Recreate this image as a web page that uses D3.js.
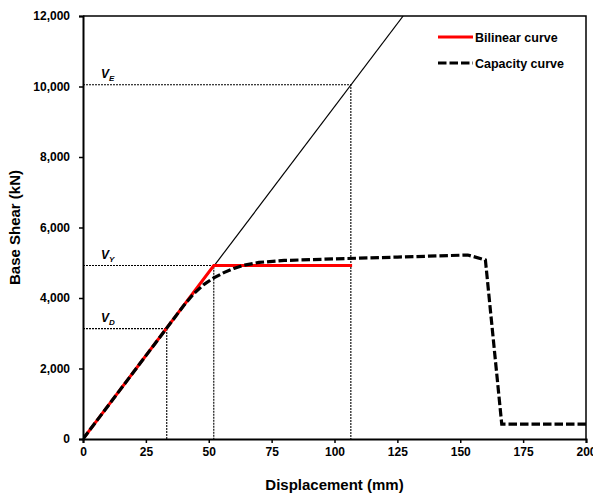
<!DOCTYPE html>
<html>
<head>
<meta charset="utf-8">
<script src="https://cdn.jsdelivr.net/npm/d3@7"></script>
<style>
  body { margin: 0; background: #fff; }
  svg { display: block; font-family: "Liberation Sans", Arial, sans-serif; }
  .axis text { font-size: 12px; font-weight: bold; fill: #000; }
</style>
</head>
<body>
<div id="chart"></div>
<script>
// Pushover capacity curve with bilinear idealisation.
const xTicks = [0, 25, 50, 75, 100, 125, 150, 175, 200];
const yTicks = [0, 2000, 4000, 6000, 8000, 10000, 12000];

const elasticLine = [[0, 0], [127.3, 12000]];
const bilinear = [[0, 0], [52.0, 4920], [107.0, 4920]];
const capacity = [
  [0, 0], [40, 3780], [44, 4120], [48, 4380], [52, 4570], [56, 4720],
  [60, 4840], [64, 4930], [70, 5010], [80, 5065], [100, 5110], [125, 5160],
  [153, 5220], [160, 5080], [166.5, 420], [200, 420]
];
// reference levels: name, subscript, displacement, shear
const levels = [
  { name: "V", sub: "E", d: 106.5, v: 10050 },
  { name: "V", sub: "Y", d: 52.0, v: 4920 },
  { name: "V", sub: "D", d: 33.3, v: 3130 }
];
const legendItems = [
  { label: "Bilinear curve", color: "#ff0000", dash: null },
  { label: "Capacity curve", color: "#000", dash: "8.5,3" }
];

const W = 593, H = 493;
const m = { t: 16, r: 7, b: 54, l: 83 };
const svg = d3.select("#chart").append("svg").attr("width", W).attr("height", H);

const x = d3.scaleLinear().domain([0, 200]).range([m.l, W - m.r]);
const y = d3.scaleLinear().domain([0, 12000]).range([H - m.b, m.t]);

svg.append("clipPath").attr("id", "plot-clip").append("rect")
  .attr("x", m.l).attr("y", m.t).attr("width", W - m.r - m.l).attr("height", H - m.b - m.t);

const plot = svg.append("g").attr("clip-path", "url(#plot-clip)");
const line = d3.line().x((d) => x(d[0])).y((d) => y(d[1]));

// dotted guide lines
levels.forEach((l) => {
  plot.append("path")
    .attr("d", line([[0, l.v], [l.d, l.v], [l.d, 0]]))
    .attr("fill", "none").attr("stroke", "#000").attr("stroke-width", 1.1)
    .attr("stroke-dasharray", "2,1");
  const t = svg.append("text").attr("x", x(7.2)).attr("y", y(l.v) - 7)
    .style("font-size", "12px").style("font-style", "italic").style("font-weight", "bold");
  t.append("tspan").text(l.name);
  t.append("tspan").attr("dy", 3).style("font-size", "8px").text(l.sub);
});

plot.append("path").attr("d", line(elasticLine))
  .attr("fill", "none").attr("stroke", "#000").attr("stroke-width", 1.2);
plot.append("path").attr("d", line(bilinear))
  .attr("fill", "none").attr("stroke", "#ff0000").attr("stroke-width", 3);
plot.append("path").attr("d", line(capacity))
  .attr("fill", "none").attr("stroke", "#000").attr("stroke-width", 3.2)
  .attr("stroke-dasharray", "8.5,3");

// frame
svg.append("path")
  .attr("d", `M${m.l},${m.t}H${W - m.r}V${H - m.b}`)
  .attr("fill", "none").attr("stroke", "#000").attr("stroke-width", 1.5);

svg.append("g").attr("class", "axis")
  .attr("transform", `translate(0,${H - m.b})`)
  .call(d3.axisBottom(x).tickValues(xTicks).tickSize(4).tickPadding(4).tickFormat(d3.format("d")))
  .call((g) => g.select(".domain").attr("stroke-width", 2))
  .call((g) => g.selectAll(".tick line").attr("stroke-width", 1.5));
svg.append("g").attr("class", "axis")
  .attr("transform", `translate(${m.l},0)`)
  .call(d3.axisLeft(y).tickValues(yTicks).tickSize(4).tickPadding(9).tickFormat(d3.format(",")))
  .call((g) => g.select(".domain").attr("stroke-width", 2))
  .call((g) => g.selectAll(".tick line").attr("stroke-width", 1.5));

svg.append("text").attr("x", (m.l + W - m.r) / 2).attr("y", 490)
  .attr("text-anchor", "middle").style("font-size", "15px").style("font-weight", "bold")
  .text("Displacement (mm)");
svg.append("text").attr("transform", `translate(20,${(m.t + H - m.b) / 2}) rotate(-90)`)
  .attr("text-anchor", "middle").style("font-size", "15px").style("font-weight", "bold")
  .text("Base Shear (kN)");

const leg = svg.append("g").attr("transform", "translate(438,37)");
legendItems.forEach((d, i) => {
  const g = leg.append("g").attr("transform", `translate(0,${i * 26})`);
  g.append("line").attr("x1", 0).attr("x2", 35).attr("y1", 0).attr("y2", 0)
    .attr("stroke", d.color).attr("stroke-width", 3)
    .attr("stroke-dasharray", d.dash);
  g.append("text").attr("x", 37).attr("y", 4.5)
    .style("font-size", "12.5px").style("font-weight", "bold").text(d.label);
});
</script>
</body>
</html>
